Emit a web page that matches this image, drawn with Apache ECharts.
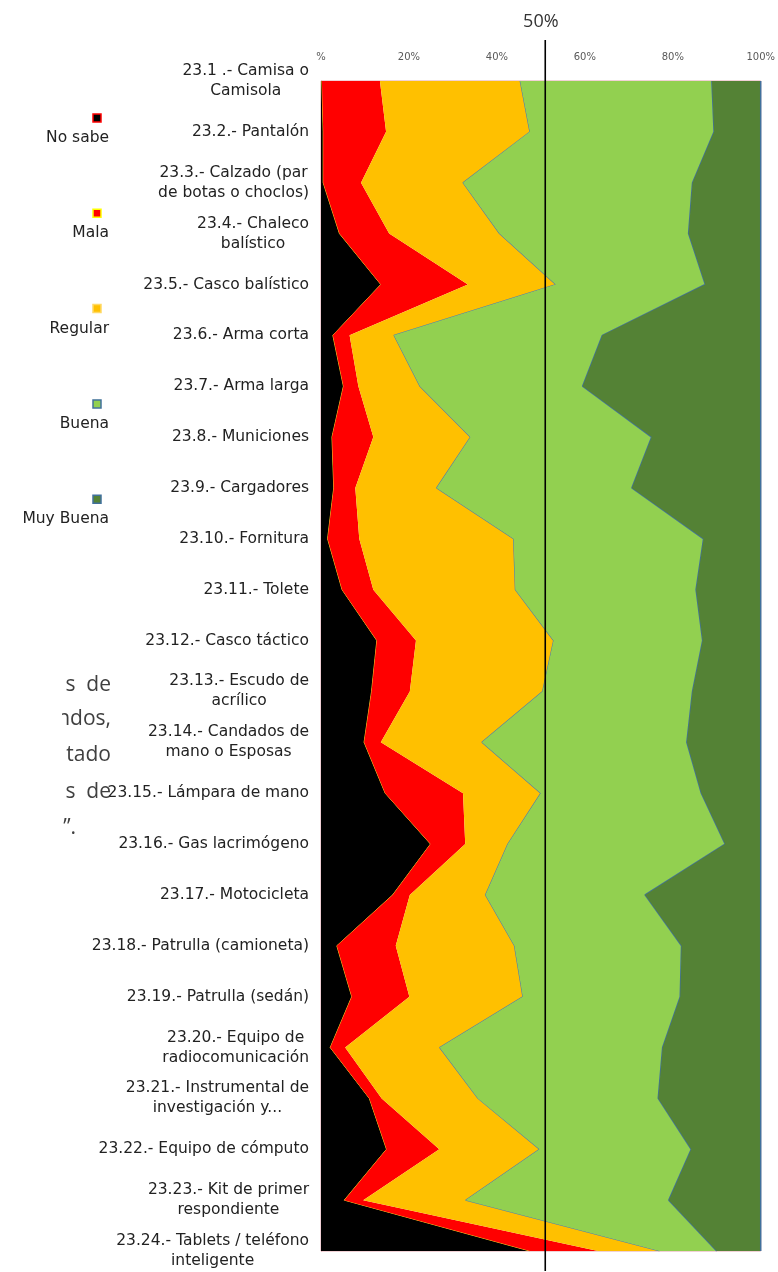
<!DOCTYPE html>
<html><head><meta charset="utf-8">
<script src="https://cdn.jsdelivr.net/npm/echarts@6/dist/echarts.min.js"></script>
<style>html,body{margin:0;padding:0;background:#fff}#c{width:778px;height:1272px}</style>
</head><body><div id="c"></div>
<script>
const categories = [
  '23.1 .- Camisa o\nCamisola', '23.2.- Pantalón', '23.3.- Calzado (par\nde botas o choclos)',
  '23.4.- Chaleco\nbalístico', '23.5.- Casco balístico', '23.6.- Arma corta', '23.7.- Arma larga',
  '23.8.- Municiones', '23.9.- Cargadores', '23.10.- Fornitura', '23.11.- Tolete',
  '23.12.- Casco táctico', '23.13.- Escudo de\nacrílico', '23.14.- Candados de\nmano o Esposas',
  '23.15.- Lámpara de mano', '23.16.- Gas lacrimógeno', '23.17.- Motocicleta',
  '23.18.- Patrulla (camioneta)', '23.19.- Patrulla (sedán)', '23.20.- Equipo de\nradiocomunicación',
  '23.21.- Instrumental de\ninvestigación y...', '23.22.- Equipo de cómputo',
  '23.23.- Kit de primer\nrespondiente', '23.24.- Tablets / teléfono\ninteligente'
];
const seriesNames = ['No sabe', 'Mala', 'Regular', 'Buena', 'Muy Buena'];
const noSabe   = [0.2, 0.5, 0.5, 4.2, 13.6, 2.7, 5.1, 2.5, 2.9, 1.5, 4.8, 12.7, 11.5, 9.8, 14.6, 24.9, 16.3, 3.6, 7.0, 2.1, 11.0, 14.9, 5.3, 47.5];
const mala     = [13.2, 14.3, 8.6, 11.3, 19.8, 3.8, 3.4, 9.4, 4.9, 7.2, 7.1, 8.9, 8.7, 3.8, 17.7, 7.9, 3.9, 13.4, 13.1, 3.4, 2.8, 12.0, 4.3, 15.5];
const regular  = [31.9, 32.7, 23.2, 25.1, 20.0, 10.1, 14.0, 22.1, 18.5, 35.1, 32.3, 31.3, 30.2, 23.0, 17.7, 9.7, 17.2, 27.0, 25.8, 21.5, 21.9, 22.8, 23.3, 14.0];
const buena    = [43.6, 41.9, 52.2, 43.0, 34.0, 47.4, 37.0, 41.2, 44.4, 43.2, 41.1, 33.9, 34.1, 46.6, 36.5, 49.4, 36.3, 38.0, 35.8, 50.7, 41.0, 34.5, 46.2, 13.0];
const muyBuena = [11.1, 10.6, 15.5, 16.4, 12.6, 36.0, 40.5, 24.8, 29.3, 13.0, 14.7, 13.2, 15.5, 16.8, 13.5, 8.1, 26.3, 18.0, 18.3, 22.3, 23.3, 15.8, 20.9, 10.0];
const xTickValues = [0, 20, 40, 60, 80, 100];
const xTickLabels = ['%', '20%', '40%', '60%', '80%', '100%'];
const refLabel = '50%';
const refLabelValue = 50;
const refLineValue = 51;
const sideText = ['s  de', 'ndos,', 'tado', 's  de', 'l”.'];

const fills = ['#000000', '#FF0000', '#FFC000', '#92D050', '#548235'];
const lines = ['#F2D21B', '#FF0000', '#5A7FA0', '#41719C', '#41719C'];
const lineW = [1, 0, 1.2, 1.5, 1.5];
const markerBorders = ['#FF0000', '#FFFF00', '#FFD966', '#41719C', '#41719C'];
const values = [noSabe, mala, regular, buena, muyBuena];
const labelFont = 'DejaVu Sans';
const labelSize = 15.5;
const labelColor = '#222';

const chart = echarts.init(document.getElementById('c'), null, {renderer: 'canvas'});
chart.setOption({
  animation: false,
  backgroundColor: '#ffffff',
  grid: {left: 321, right: 16, top: 81, bottom: 21, show: true, borderColor: '#E3A3AC', borderWidth: 1, backgroundColor: 'transparent'},
  xAxis: {
    type: 'value', position: 'top', min: 0, max: 100, interval: 20,
    axisLine: {show: false}, axisTick: {show: false}, splitLine: {show: false},
    axisLabel: {
      margin: 19, fontFamily: labelFont, fontSize: 10, color: '#595959',
      formatter: v => xTickLabels[xTickValues.indexOf(v)]
    }
  },
  yAxis: {
    type: 'category', inverse: true, boundaryGap: false, data: categories,
    axisLine: {show: true, lineStyle: {color: '#E3A3AC', width: 1}}, axisTick: {show: false}, splitLine: {show: false},
    axisLabel: {
      interval: 0, hideOverlap: false, margin: 12, fontFamily: labelFont, fontSize: labelSize, color: labelColor, lineHeight: 20,
      formatter: v => v.split('\n').map(s => '{c|' + s + '}').join('\n'),
      rich: {c: {align: 'center', fontFamily: labelFont, fontSize: labelSize, lineHeight: 20, color: labelColor}}
    }
  },
  series: seriesNames.map((n, i) => ({
    name: n, type: 'line', stack: 'total', symbol: 'none', data: values[i],
    lineStyle: {color: lines[i], width: lineW[i]},
    areaStyle: {color: fills[i], opacity: 1},
    itemStyle: {color: fills[i]},
    z: 2 + i
  }))
});

const lx = chart.convertToPixel({xAxisIndex: 0}, refLineValue);
const tx = chart.convertToPixel({xAxisIndex: 0}, refLabelValue);
const g = [];
g.push({type: 'line', shape: {x1: lx, y1: 40, x2: lx, y2: 1271}, style: {stroke: '#000', lineWidth: 1.6}, z: 50});
g.push({type: 'text', x: tx, y: 22, style: {text: refLabel, font: '18px "Open Sans"', fill: '#333', textAlign: 'center', textVerticalAlign: 'middle'}, z: 50});
seriesNames.forEach((n, i) => {
  const my = 118 + i * 95.3;
  g.push({type: 'rect', shape: {x: 93, y: my - 4, width: 8, height: 8}, style: {fill: fills[i], stroke: markerBorders[i], lineWidth: 1.5}, z: 50});
  g.push({type: 'text', x: 109, y: my + 20, style: {text: n, font: labelSize + 'px "DejaVu Sans"', fill: labelColor, textAlign: 'right', textVerticalAlign: 'middle'}, z: 50});
});
const sideY = [685, 719, 755, 792, 828];
sideText.forEach((t, i) => {
  const last = i === sideText.length - 1;
  g.push({type: 'text', x: last ? 58 : 111, y: sideY[i], style: {text: t, font: '21px "Open Sans"', fill: '#404040', textAlign: last ? 'left' : 'right', textVerticalAlign: 'middle'}, z: 40});
});
g.push({type: 'rect', shape: {x: 0, y: 665, width: 62, height: 185}, style: {fill: '#fff'}, z: 45});
chart.setOption({graphic: g});
</script>
</body></html>
